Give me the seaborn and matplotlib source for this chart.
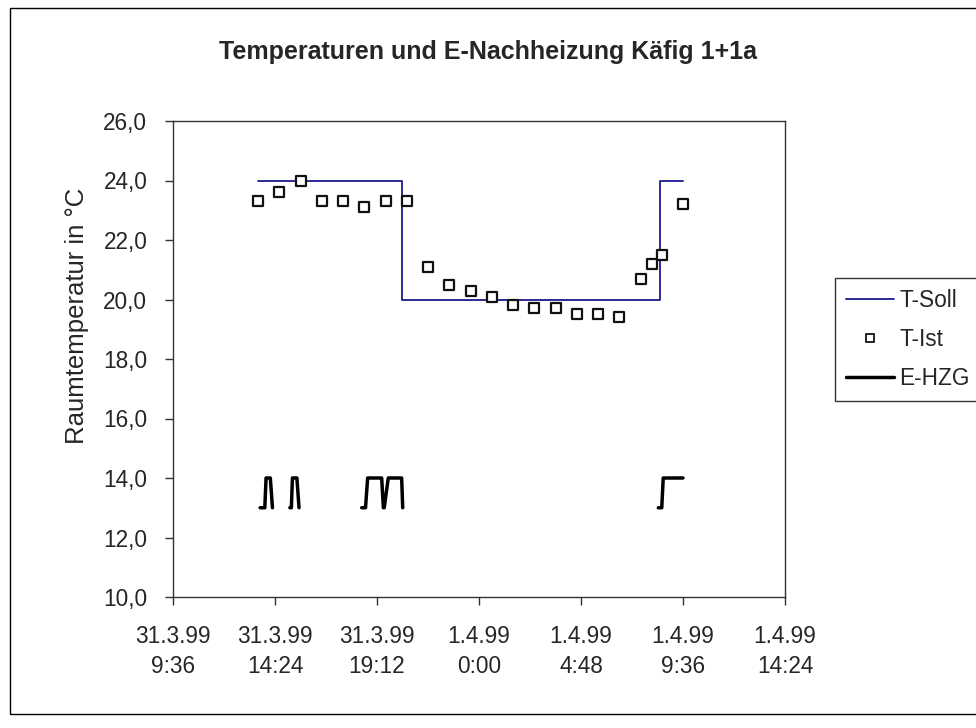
import matplotlib
matplotlib.use("Agg")
import matplotlib.pyplot as plt
import seaborn as sns
import pandas as pd
from matplotlib.lines import Line2D
from matplotlib.patches import Rectangle
from matplotlib.ticker import FixedLocator, FuncFormatter

# ---------------- data (hours since 31.3.99 0:00) ----------------
soll_t = [13.6, 20.4, 20.4, 32.5, 32.5, 33.6]
soll_v = [24.0, 24.0, 20.0, 20.0, 24.0, 24.0]

ist_t = [13.6, 14.6, 15.6, 16.6, 17.6, 18.6, 19.6, 20.6, 21.6, 22.6, 23.6,
         24.6, 25.6, 26.6, 27.6, 28.6, 29.6, 30.6, 31.6, 32.15, 32.6, 33.6]
ist_v = [23.3, 23.6, 24.0, 23.3, 23.3, 23.1, 23.3, 23.3, 21.1, 20.5, 20.3,
         20.1, 19.8, 19.7, 19.7, 19.5, 19.5, 19.4, 20.7, 21.2, 21.5, 23.2]

hzg_t = [13.70, 13.92, 13.98, 14.18, 14.28,
         15.10, 15.17, 15.22, 15.43, 15.53,
         18.48, 18.66, 18.76, 19.42, 19.50, 19.54, 19.73, 20.36, 20.41,
         32.44, 32.60, 32.67, 33.60]
hzg_v = [13, 13, 14, 14, 13,
         13, 13, 14, 14, 13,
         13, 13, 14, 14, 13, 13, 14, 14, 13,
         13, 13, 14, 14]
hzg_seg = [1] * 5 + [2] * 5 + [3] * 9 + [4] * 4

x_ticks = [9.6, 14.4, 19.2, 24.0, 28.8, 33.6, 38.4]
x_labels = ["31.3.99\n9:36", "31.3.99\n14:24", "31.3.99\n19:12", "1.4.99\n0:00",
            "1.4.99\n4:48", "1.4.99\n9:36", "1.4.99\n14:24"]
y_ticks = [10, 12, 14, 16, 18, 20, 22, 24, 26]

title = "Temperaturen und E-Nachheizung Käfig 1+1a"
ylabel = "Raumtemperatur in °C"
legend_labels = ["T-Soll", "T-Ist", "E-HZG"]

# ---------------- style ----------------
sns.set_theme(style="white")
plt.rcParams['font.family'] = ['Liberation Sans', 'DejaVu Sans']
FS = 16.3

df_soll = pd.DataFrame({"t": soll_t, "v": soll_v})
df_ist = pd.DataFrame({"t": ist_t, "v": ist_v})
df_hzg = pd.DataFrame({"t": hzg_t, "v": hzg_v, "seg": hzg_seg})

fig = plt.figure(figsize=(9.76, 7.28), dpi=100)
ax = fig.add_axes([173 / 976, 1 - 597 / 728, (785 - 173) / 976, (597 - 121) / 728])

navy = "#1a1a8c"
sns.lineplot(data=df_soll, x="t", y="v", ax=ax, color=navy, linewidth=1.3,
             sort=False, estimator=None, legend=False)
sns.lineplot(data=df_hzg, x="t", y="v", units="seg", ax=ax, color="black",
             linewidth=2.5, sort=False, estimator=None, legend=False)
sns.scatterplot(data=df_ist, x="t", y="v", ax=ax, marker="s", s=60,
                facecolor="white", edgecolor="#111111", linewidth=1.6,
                legend=False, zorder=5)

ax.set_xlim(9.6, 38.4)
ax.set_ylim(10, 26)
ax.xaxis.set_major_locator(FixedLocator(x_ticks))
ax.set_xticklabels(x_labels, linespacing=1.4)
ax.yaxis.set_major_locator(FixedLocator(y_ticks))
ax.yaxis.set_major_formatter(FuncFormatter(lambda v, p: f"{v:.1f}".replace(".", ",")))
ax.tick_params(axis="both", direction="out", length=6, width=1, color="#333333",
               labelsize=FS, bottom=True, left=True)
ax.tick_params(axis="x", pad=14)
ax.tick_params(axis="y", pad=12.5)
ax.set_xlabel("")
ax.set_ylabel(ylabel, fontsize=18.5)
ax.yaxis.set_label_coords(-0.138, 0.59)
for s in ax.spines.values():
    s.set_color("#333333")
    s.set_linewidth(1)

fig.text(488 / 976, 1 - 52 / 728, title, ha="center", va="center",
         fontsize=18, fontweight="bold")

handles = [
    Line2D([], [], color=navy, linewidth=1.3),
    Line2D([], [], linestyle="none", marker="s", markersize=5.5,
           markerfacecolor="white", markeredgecolor="black", markeredgewidth=1.2),
    Line2D([], [], color="black", linewidth=2.5),
]
leg = fig.legend(handles, legend_labels, loc="upper left",
                 bbox_to_anchor=(835 / 976, 1 - 278 / 728), fontsize=FS,
                 frameon=True, fancybox=False, edgecolor="black",
                 handlelength=2.1, handletextpad=0.25, labelspacing=0.7,
                 borderpad=0.5, borderaxespad=0)
leg.get_frame().set_linewidth(1)

fig.patches.append(Rectangle((10 / 976, 1 - 714 / 728), 1.0, (714 - 8) / 728,
                             transform=fig.transFigure, fill=False,
                             edgecolor="black", linewidth=1))

fig.savefig("out.png", dpi=100)
